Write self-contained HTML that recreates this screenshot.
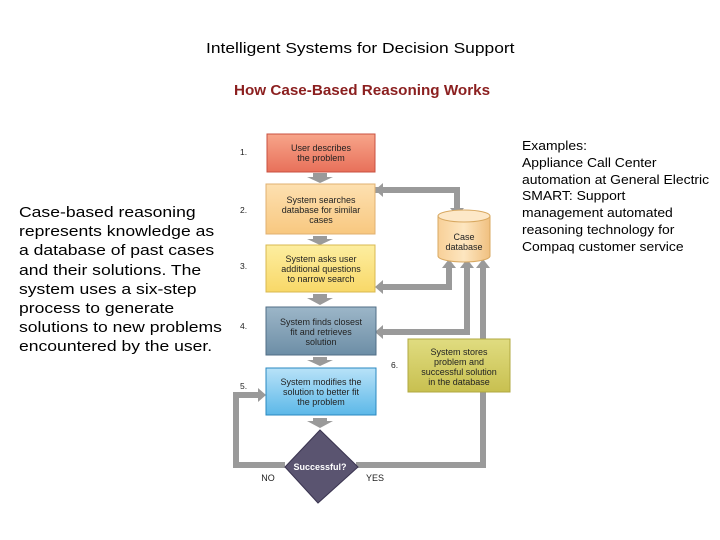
<!DOCTYPE html>
<html><head><style>
body{margin:0;width:720px;height:540px;background:#fff;overflow:hidden;position:relative;font-family:"Liberation Sans",Arial,sans-serif}
.t{position:absolute;white-space:nowrap;transform-origin:0 0}
</style></head><body>
<div class="t" style="left:206px;top:40px;font-size:15px;color:#000;transform:scaleX(1.16)">Intelligent Systems for Decision Support</div>
<div class="t" style="left:234px;top:83px;font-size:14.5px;font-weight:bold;color:#8b1f1f;transform:scaleX(1.05)">How Case-Based Reasoning Works</div>
<div class="t" style="left:19px;top:203px;font-size:15px;line-height:19.2px;color:#000;transform:scaleX(1.17)">Case-based reasoning<br>represents knowledge as<br>a database of past cases<br>and their solutions. The<br>system uses a six-step<br>process to generate<br>solutions to new problems<br>encountered by the user.</div>
<div class="t" style="left:522px;top:138px;font-size:13px;line-height:16.8px;color:#000;transform:scaleX(1.07)">Examples:<br>Appliance Call Center<br>automation at General Electric<br>SMART: Support<br>management automated<br>reasoning technology for<br>Compaq customer service</div>
<svg width="720" height="540" style="position:absolute;left:0;top:0" font-family="Liberation Sans, Arial, sans-serif">
<defs>
<linearGradient id="g1" x1="0" y1="0" x2="0" y2="1"><stop offset="0" stop-color="#f7a58a"/><stop offset="1" stop-color="#e8705a"/></linearGradient>
<linearGradient id="g2" x1="0" y1="0" x2="0" y2="1"><stop offset="0" stop-color="#fde0b0"/><stop offset="1" stop-color="#f8c880"/></linearGradient>
<linearGradient id="g3" x1="0" y1="0" x2="0" y2="1"><stop offset="0" stop-color="#fdeea0"/><stop offset="1" stop-color="#f8d868"/></linearGradient>
<linearGradient id="g4" x1="0" y1="0" x2="0" y2="1"><stop offset="0" stop-color="#9cb6c8"/><stop offset="1" stop-color="#6d8ea6"/></linearGradient>
<linearGradient id="g5" x1="0" y1="0" x2="0" y2="1"><stop offset="0" stop-color="#b8e2f8"/><stop offset="1" stop-color="#5cb8e8"/></linearGradient>
<linearGradient id="g6" x1="0" y1="0" x2="0" y2="1"><stop offset="0" stop-color="#e0dc80"/><stop offset="1" stop-color="#c8c050"/></linearGradient>
<linearGradient id="gc" x1="0" y1="0" x2="1" y2="0"><stop offset="0" stop-color="#f8d098"/><stop offset="0.5" stop-color="#fde6c0"/><stop offset="1" stop-color="#f0c080"/></linearGradient>
</defs>
<g fill="none" stroke="#9a9a9a" stroke-width="6">
<polyline points="375,190 457,190 457,208"/>
<polyline points="382,287 449,287 449,266"/>
<polyline points="382,332 467,332 467,266"/>
<polyline points="356,465 483,465 483,266"/>
<polyline points="285,465 236,465 236,395 258,395"/>
</g>
<g fill="#9a9a9a">
<polygon points="450,208 464,208 457,216"/>
<polygon points="375,190 383,183 383,197"/>
<polygon points="442,268 456,268 449,259"/>
<polygon points="375,287 383,280 383,294"/>
<polygon points="460,268 474,268 467,259"/>
<polygon points="375,332 383,325 383,339"/>
<polygon points="476,268 490,268 483,259"/>
<polygon points="266,395 258,388 258,402"/>
<polygon points="313,173 327,173 327,177 333,177 320,183 307,177 313,177"/>
<polygon points="313,236 327,236 327,239 333,239 320,245 307,239 313,239"/>
<polygon points="313,294 327,294 327,298 333,298 320,305 307,298 313,298"/>
<polygon points="313,357 327,357 327,360 333,360 320,366 307,360 313,360"/>
<polygon points="313,418 327,418 327,421 333,421 320,428 307,421 313,421"/>
</g>
<rect x="267" y="134" width="108" height="38" fill="url(#g1)" stroke="#c85040" stroke-width="1"/>
<rect x="266" y="184" width="109" height="50" fill="url(#g2)" stroke="#e0b070" stroke-width="1"/>
<rect x="266" y="245" width="109" height="47" fill="url(#g3)" stroke="#d8b850" stroke-width="1"/>
<rect x="266" y="307" width="110" height="48" fill="url(#g4)" stroke="#506e86" stroke-width="1"/>
<rect x="266" y="368" width="110" height="47" fill="url(#g5)" stroke="#2a88c0" stroke-width="1"/>
<rect x="408" y="339" width="102" height="53" fill="url(#g6)" stroke="#b0a840" stroke-width="1"/>
<path d="M438,216 L438,256 A26,6 0 0 0 490,256 L490,216" fill="url(#gc)" stroke="#d8a860"/>
<ellipse cx="464" cy="216" rx="26" ry="6" fill="#fde8c8" stroke="#d8a860"/>
<polygon points="320,430 358,467 318,503 285,467" fill="#5a5470" stroke="#3a3450"/>
<g font-size="9" fill="#222" text-anchor="middle">
<text x="321" y="151">User describes</text><text x="321" y="161">the problem</text>
<text x="321" y="203">System searches</text><text x="321" y="213">database for similar</text><text x="321" y="223">cases</text>
<text x="321" y="262">System asks user</text><text x="321" y="272">additional questions</text><text x="321" y="282">to narrow search</text>
<text x="321" y="325">System finds closest</text><text x="321" y="335">fit and retrieves</text><text x="321" y="345">solution</text>
<text x="321" y="385">System modifies the</text><text x="321" y="395">solution to better fit</text><text x="321" y="405">the problem</text>
<text x="459" y="355">System stores</text><text x="459" y="365">problem and</text><text x="459" y="375">successful solution</text><text x="459" y="385">in the database</text>
<text x="464" y="240">Case</text><text x="464" y="250">database</text>
<text x="320" y="470" fill="#fff" font-weight="bold">Successful?</text>
<text x="268" y="481">NO</text><text x="375" y="481">YES</text>
</g>
<g font-size="8.5" fill="#222">
<text x="240" y="155">1.</text><text x="240" y="213">2.</text><text x="240" y="269">3.</text><text x="240" y="329">4.</text><text x="240" y="389">5.</text><text x="391" y="368">6.</text>
</g>
</svg>
</body></html>
